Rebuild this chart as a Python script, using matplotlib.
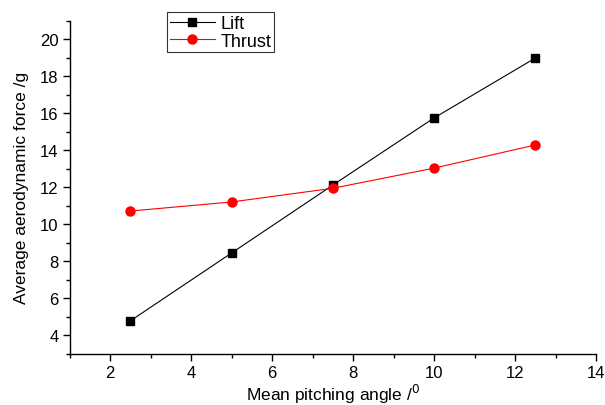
import matplotlib
matplotlib.use("Agg")
import matplotlib.pyplot as plt
from matplotlib.ticker import MultipleLocator

plt.rcParams["font.family"] = ["Liberation Sans", "DejaVu Sans"]

# data
angle_deg = [2.5, 5.0, 7.5, 10.0, 12.5]
lift_g = [4.76, 8.43, 12.1, 15.73, 18.97]
thrust_g = [10.7, 11.19, 11.93, 13.02, 14.27]

fig = plt.figure(figsize=(6.05, 4.06), dpi=100)
ax = fig.add_axes([69.5 / 605, 51.5 / 406, (596 - 69.5) / 605, (354.5 - 21.5) / 406])

ax.plot(angle_deg, lift_g, color="black", lw=0.8, marker="s", ms=6,
        label="Lift")
ax.plot(angle_deg, thrust_g, color="red", lw=0.8, marker="o", ms=6.5,
        label="Thrust")

ax.set_xlim(1, 14)
ax.set_ylim(3, 21)
ax.xaxis.set_major_locator(MultipleLocator(2))
ax.xaxis.set_minor_locator(MultipleLocator(1))
ax.yaxis.set_major_locator(MultipleLocator(2))
ax.yaxis.set_minor_locator(MultipleLocator(1))

for side in ("top", "right"):
    ax.spines[side].set_visible(False)
ax.spines["left"].set_linewidth(1.0)
ax.spines["bottom"].set_linewidth(1.0)
ax.tick_params(which="major", direction="out", length=5, width=1.0,
               labelsize=12, pad=3)
ax.tick_params(which="minor", direction="out", length=3, width=1.0)

ax.set_xlabel("Mean pitching angle /$^{0}$", fontsize=12.5, labelpad=2)
ax.set_ylabel("Average aerodynamic force /g", fontsize=12.5, labelpad=8)

leg = ax.legend(loc="upper left", bbox_to_anchor=(0.185, 1.025),
                frameon=True, fancybox=False, fontsize=13,
                handlelength=2.5, handletextpad=0.3, borderpad=0.15,
                labelspacing=0.05, borderaxespad=0)
leg.get_frame().set_edgecolor("black")
leg.get_frame().set_linewidth(0.8)

fig.savefig("out.png", dpi=100)
